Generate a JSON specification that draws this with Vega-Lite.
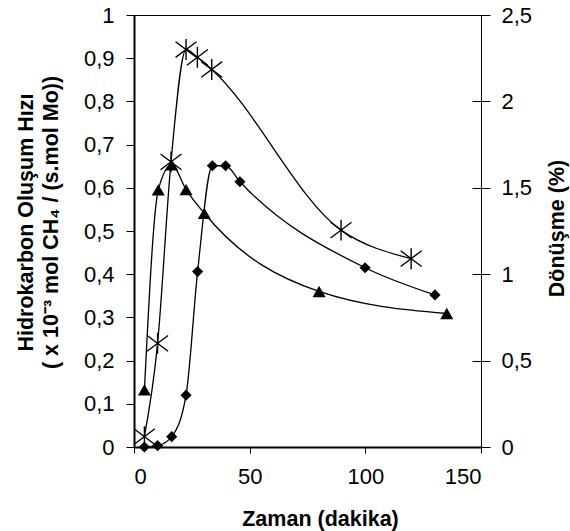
{
  "$schema": "https://vega.github.io/schema/vega-lite/v6.json",
  "description": "Hidrokarbon olusum hizi ve donusme - zaman",
  "width": 347,
  "height": 432,
  "autosize": "none",
  "padding": {"left": 134, "top": 15, "right": 89, "bottom": 84},
  "background": "white",
  "config": {
    "view": {"stroke": "black", "strokeWidth": 1},
    "font": "Liberation Sans",
    "axis": {
      "grid": false,
      "domainColor": "black",
      "tickColor": "black",
      "labelColor": "black",
      "titleColor": "black",
      "labelFont": "Liberation Sans",
      "titleFont": "Liberation Sans",
      "labelFontSize": 22,
      "titleFontSize": 21.5,
      "titleFontWeight": "bold"
    }
  },
  "layer": [
    {
      "data": {
        "values": [
          {"seri": "D", "t": 4.5, "v": 0},
          {"seri": "D", "t": 10.2, "v": 0.003},
          {"seri": "D", "t": 16.3, "v": 0.024},
          {"seri": "D", "t": 22.5, "v": 0.12},
          {"seri": "D", "t": 27.5, "v": 0.406},
          {"seri": "D", "t": 33.9, "v": 0.651},
          {"seri": "D", "t": 39.6, "v": 0.651},
          {"seri": "D", "t": 45.8, "v": 0.614},
          {"seri": "D", "t": 99.9, "v": 0.415},
          {"seri": "D", "t": 130.1, "v": 0.352},
          {"seri": "T", "t": 4.5, "v": 0.132},
          {"seri": "T", "t": 10.5, "v": 0.595},
          {"seri": "T", "t": 16.3, "v": 0.653},
          {"seri": "T", "t": 22.5, "v": 0.596},
          {"seri": "T", "t": 30.4, "v": 0.541},
          {"seri": "T", "t": 80, "v": 0.36},
          {"seri": "T", "t": 135.2, "v": 0.309}
        ]
      },
      "encoding": {
        "x": {
          "field": "t",
          "type": "quantitative",
          "scale": {"domain": [0, 150], "nice": false},
          "axis": {
            "values": [0, 50, 100, 150],
            "title": "Zaman (dakika)",
            "domainWidth": 2,
            "tickSize": 6,
            "labelPadding": 13,
            "titleAlign": "center",
            "titleBaseline": "alphabetic",
            "titleX": 186,
            "titleY": 78
          }
        },
        "y": {
          "field": "v",
          "type": "quantitative",
          "scale": {"domain": [0, 1], "nice": false},
          "axis": {
            "orient": "left",
            "values": [0, 0.1, 0.2, 0.3, 0.4, 0.5, 0.6, 0.7, 0.8, 0.9, 1],
            "labelExpr": "replace(format(datum.value, '.1~f'), '.', ',')",
            "domainWidth": 2,
            "tickSize": 8,
            "labelPadding": 12,
            "title": ["Hidrokarbon Oluşum Hızı", "( x 10⁻³ mol CH₄ / (s.mol Mo))"],
            "titleAngle": -90,
            "titleAlign": "center",
            "titleBaseline": "middle",
            "titleLineHeight": 24.5,
            "titleX": -107.5,
            "titleY": 207
          }
        }
      },
      "layer": [
        {
          "mark": {"type": "line", "color": "black", "strokeWidth": 1.3, "interpolate": "monotone"},
          "encoding": {"detail": {"field": "seri"}}
        },
        {
          "mark": {"type": "point", "filled": true, "color": "black", "opacity": 1},
          "encoding": {
            "shape": {
              "field": "seri",
              "scale": {"domain": ["D", "T"], "range": ["diamond", "triangle-up"]},
              "legend": null
            },
            "size": {
              "field": "seri",
              "scale": {"domain": ["D", "T"], "range": [125, 170]},
              "legend": null
            }
          }
        }
      ]
    },
    {
      "data": {
        "values": [
          {"seri": "S", "t": 4.5, "d": 0.06},
          {"seri": "S", "t": 10.2, "d": 0.6},
          {"seri": "S", "t": 16, "d": 1.65},
          {"seri": "S", "t": 22.5, "d": 2.3},
          {"seri": "S", "t": 27.4, "d": 2.255},
          {"seri": "S", "t": 33.6, "d": 2.185},
          {"seri": "S", "t": 89.5, "d": 1.255},
          {"seri": "S", "t": 119.8, "d": 1.09}
        ]
      },
      "encoding": {
        "x": {"field": "t", "type": "quantitative"},
        "y": {
          "field": "d",
          "type": "quantitative",
          "scale": {"domain": [0, 2.5], "nice": false},
          "axis": {
            "orient": "right",
            "values": [0, 0.5, 1, 1.5, 2, 2.5],
            "labelExpr": "replace(format(datum.value, '.1~f'), '.', ',')",
            "domain": false,
            "offset": -9,
            "tickSize": 18,
            "labelPadding": 11,
            "title": "Dönüşme (%)",
            "titleAngle": -90,
            "titleAlign": "center",
            "titleBaseline": "middle",
            "titleX": 85,
            "titleY": 213
          }
        }
      },
      "layer": [
        {
          "mark": {"type": "line", "color": "black", "strokeWidth": 1.3, "interpolate": "monotone"}
        },
        {
          "mark": {
            "type": "point",
            "shape": "M-1,-0.75L1,0.75M-1,0.75L1,-0.75M0,-1L0,1",
            "filled": false,
            "color": "black",
            "strokeWidth": 1.4,
            "size": 440,
            "opacity": 1
          }
        }
      ]
    }
  ],
  "resolve": {"scale": {"y": "independent"}}
}
